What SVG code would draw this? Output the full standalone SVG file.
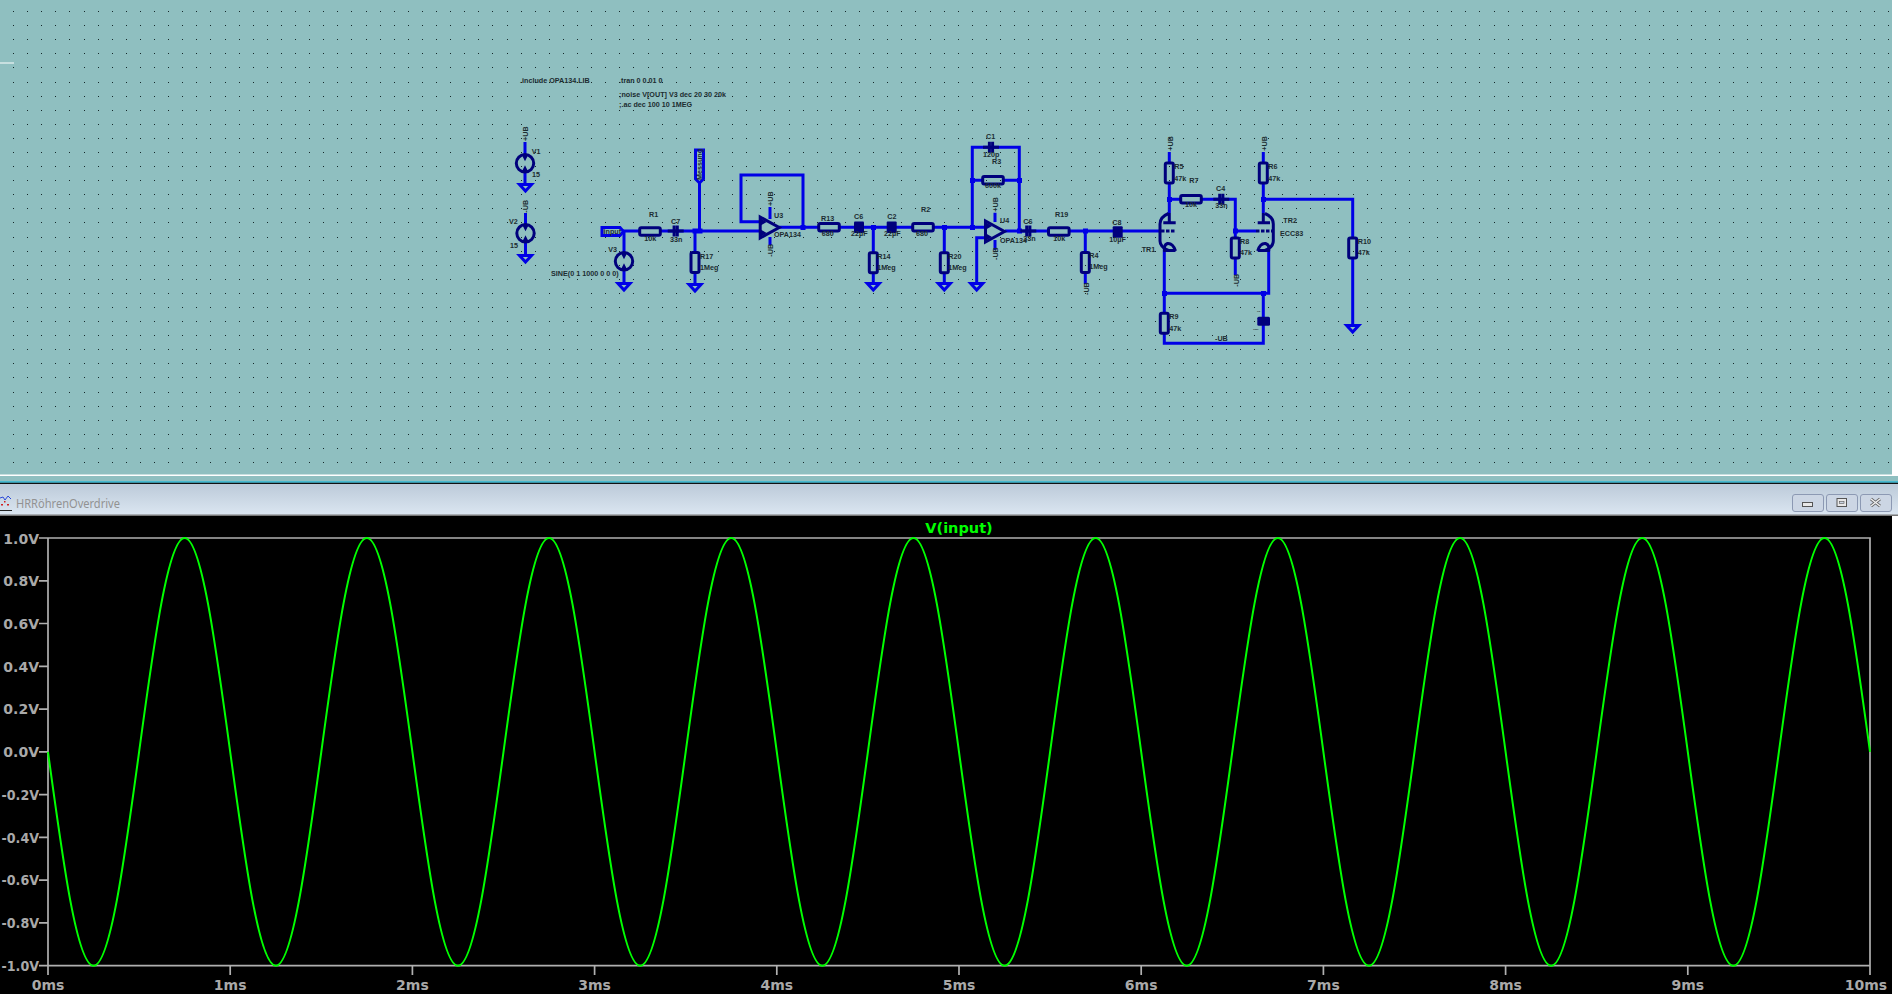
<svg xmlns="http://www.w3.org/2000/svg" width="1898" height="997" viewBox="0 0 1898 997">
<style>
.w{fill:none;stroke:#0000e6;stroke-width:3;stroke-linejoin:miter}
.c{fill:none;stroke:#00007c;stroke-width:3}
.f{fill:#00007c;stroke:none}
.j{fill:#0000e6}
.t{font:bold 7.2px "Liberation Sans",Arial,sans-serif;fill:#1c2c30}
.a{font:bold 14px "DejaVu Sans",sans-serif;fill:#a9a9a9}
.ax{fill:none;stroke:#b0b0b0;stroke-width:1.7}
.b{fill:#ccd6e4;stroke:#8c99b3;stroke-width:1}
</style>
<defs>
<linearGradient id="tb" x1="0" y1="0" x2="0" y2="1"><stop offset="0" stop-color="#bccad9"/><stop offset="1" stop-color="#dbe6f1"/></linearGradient>
<path id="gnd" class="w" d="M-6 0H6L0 6.5Z"/>
<g id="src"><circle class="c" r="8.7"/><path class="f" d="M-3-8H3L0-2ZM-3 8H3L0 2Z"/></g>
<rect id="rv" class="c" x="-4" y="-10" width="8" height="20" rx="1.5"/>
<rect id="rh" class="c" x="-10.3" y="-3.8" width="20.6" height="7.6" rx="1.5"/>
<rect id="cb" class="f" x="-5" y="-5.8" width="10" height="11.6" rx="1"/>
<path id="cs" class="c" d="M-8 0H8M-1.6-5.5V5.5M1.6-5.5V5.5"/>
<g id="oa"><path class="c" d="M-9.5-10.5V10.5L9.5 0Z"/><path class="f" d="M-9-9L-3-5.5L-9-2ZM-9 2L-3 5.5L-9 9Z"/></g>
</defs>

<rect width="1898" height="997" fill="#fff"/>
<rect width="1892" height="474.5" fill="#8fbfc0"/>
<path id="grid" fill="none" stroke="#14282a" stroke-width="1" stroke-dasharray="1 13.1" stroke-dashoffset="-13" shape-rendering="crispEdges" d="M0 11.5H1892M0 25.5H1892M0 39.5H1892M0 53.5H1892M0 67.5H1892M0 82.5H1892M0 96.5H1892M0 110.5H1892M0 124.5H1892M0 138.5H1892M0 152.5H1892M0 166.5H1892M0 180.5H1892M0 194.5H1892M0 208.5H1892M0 222.5H1892M0 237.5H1892M0 251.5H1892M0 265.5H1892M0 279.5H1892M0 293.5H1892M0 307.5H1892M0 321.5H1892M0 335.5H1892M0 349.5H1892M0 363.5H1892M0 377.5H1892M0 392.5H1892M0 406.5H1892M0 420.5H1892M0 434.5H1892M0 448.5H1892M0 462.5H1892"/>
<path d="M0 63H14" stroke="#fff" stroke-width="1"/>
<rect y="476" width="1898" height="6" fill="#8fbfc0"/>
<rect y="481.5" width="1898" height="1.2" fill="#00b4dc"/>
<rect y="482.7" width="1898" height="1.3" fill="#111"/>

<g id="connectors">
<path class="w" d="M525 142V155M525 172V185M525.5 213V225M525.5 242V255M623 231H639M661 231H760M699.5 183V231M695 231V253M695 272V284M624 231V252M624 270V283"/>
<path class="w" d="M760 221.7H741V175H803V227.3M779 227.3H819M839 227.3H913M933 227.3H985M873.3 227.3V253M873.3 272.7V283M944.3 227.3V253M944.3 272.7V283"/>
<path class="w" d="M972.3 227.3V147.3H1019.3V231M972.3 180.3H983M1003.3 180.3H1019.3M985 237.7H976.7V283M1005 231H1048M1069 231H1160M770 207V219M770 237V245M995 212.7V222M995 240V250M1085.3 231V253M1085.3 272.3V284"/>
<path class="w" d="M1169.3 152V163M1169.3 183V213M1169.3 199.3H1181M1201 199.3H1235.3V238M1235.3 258V275M1235.3 231H1256M1263.3 152V163M1263.3 183V213M1263.3 199.3H1352.7V238M1352.7 258V325"/>
<path class="w" d="M1164.3 250V313M1164.3 333V343.3H1263.3V293.3H1164.3M1268.7 250V293.3H1263.3"/>
<path class="j" d="M692.5 228.5h10v5h-10zM800.5 225h5v5h-5zM871 225h5v5h-5zM942 225h5v5h-5zM970 225h5v5h-5zM970 178h5v5h-5zM1017 178h5v5h-5zM1017 228.5h5v5h-5zM1083 228.5h5v5h-5zM1167 197h5v5h-5zM1233 228.5h5v5h-5zM1261 197h5v5h-5zM1162 291h5v5h-5zM1261 291h5v5h-5z"/>
</g>

<g id="directives">
<text class="t" x="520" y="82.7">.include OPA134.LIB</text>
<text class="t" x="619" y="82.7">.tran 0 0.01 0</text>
<text class="t" x="619" y="96.7">;noise V[OUT] V3 dec 20 30 20k</text>
<text class="t" x="619" y="106.7">;.ac dec 100 10 1MEG</text>
</g>

<g id="V1"><use href="#src" x="525" y="163.3"/><use href="#gnd" x="525.5" y="184.5"/>
<text class="t" transform="translate(528 141) rotate(-90)">+UB</text>
<text class="t" x="531.7" y="154">V1</text><text class="t" x="532" y="176.7">15</text></g>
<g id="V2"><use href="#src" x="525.5" y="233.3"/><use href="#gnd" x="525.5" y="255.5"/>
<text class="t" transform="translate(528 212.7) rotate(-90)">-UB</text>
<text class="t" x="509" y="224">V2</text><text class="t" x="510" y="247.7">15</text></g>
<g id="V3"><use href="#src" x="624" y="261.3"/><use href="#gnd" x="624" y="283.5"/>
<text class="t" x="608.3" y="252">V3</text><text class="t" x="551" y="275.7">SINE(0 1 1000 0 0 0)</text></g>

<g id="input"><path class="w" d="M602 227.5H620L623.5 231.5L620 235.5H602Z"/><text class="t" x="603.5" y="234">input</text></g>
<g id="Messung"><path class="w" d="M695.5 150H703.5V179L699.5 183L695.5 179Z"/><text class="t" transform="translate(702 180) rotate(-90)">Messung</text></g>

<g id="R1"><use href="#rh" x="650" y="231.5"/><text class="t" x="649" y="216.7">R1</text><text class="t" x="644.3" y="240.7">10k</text></g>
<g id="C7"><use href="#cs" x="675.7" y="231"/><text class="t" x="671" y="224.3">C7</text><text class="t" x="670" y="241.7">33n</text></g>
<g id="R17"><use href="#rv" x="695" y="262.5"/><use href="#gnd" x="695" y="284.5"/><text class="t" x="700" y="259">R17</text><text class="t" x="700" y="270">1Meg</text></g>

<g id="U3"><use href="#oa" x="769.7" y="227.5"/>
<text class="t" transform="translate(773 206) rotate(-90)">+UB</text><text class="t" transform="translate(773 256.7) rotate(-90)">-UB</text>
<text class="t" x="774" y="218.3">U3</text><text class="t" x="774" y="237.3">OPA134</text></g>

<g id="R13"><use href="#rh" x="829" y="227.3"/><text class="t" x="821" y="221.3">R13</text><text class="t" x="821.7" y="235.7">680</text></g>
<g id="C6"><use href="#cb" x="859" y="227.3"/><text class="t" x="854" y="218.7">C6</text><text class="t" x="851" y="235.7">22µF</text></g>
<g id="R14"><use href="#rv" x="873.3" y="262.7"/><use href="#gnd" x="873.3" y="283.5"/><text class="t" x="877.3" y="258.7">R14</text><text class="t" x="877.3" y="270">1Meg</text></g>
<g id="C2"><use href="#cb" x="891.7" y="227.3"/><text class="t" x="887.3" y="218.7">C2</text><text class="t" x="884" y="235.7">22µF</text></g>
<g id="R2"><use href="#rh" x="923" y="227.3"/><text class="t" x="921" y="211.7">R2</text><text class="t" x="916" y="235.7">680</text></g>
<g id="R20"><use href="#rv" x="944.3" y="262.7"/><use href="#gnd" x="944.3" y="283.5"/><text class="t" x="948.3" y="258.7">R20</text><text class="t" x="948.3" y="270">1Meg</text></g>

<g id="C1"><use href="#cs" x="991" y="147.3"/><text class="t" x="986" y="139">C1</text><text class="t" x="983" y="157.3">120p</text></g>
<g id="R3"><use href="#rh" x="993" y="180.3"/><text class="t" x="992" y="164.3">R3</text><text class="t" x="985" y="188.3">600k</text></g>
<g id="U4"><use href="#oa" x="995" y="231.5"/><use href="#gnd" x="976.7" y="283.5"/>
<text class="t" transform="translate(998 211.7) rotate(-90)">+UB</text><text class="t" transform="translate(998 260) rotate(-90)">-UB</text>
<text class="t" x="1000" y="223.3">U4</text><text class="t" x="1000" y="242.7">OPA134</text></g>
<g id="C9"><use href="#cs" x="1028.3" y="231"/><text class="t" x="1023.3" y="224.3">C6</text><text class="t" x="1023.3" y="241">33n</text></g>

<g id="R19"><use href="#rh" x="1058.8" y="231.5"/><text class="t" x="1055" y="216.7">R19</text><text class="t" x="1053.3" y="240.7">10k</text></g>
<g id="R4"><use href="#rv" x="1085.3" y="262.5"/><text class="t" transform="translate(1088.5 295) rotate(-90)">-UB</text><text class="t" x="1089.3" y="258.3">R4</text><text class="t" x="1089.3" y="269.3">1Meg</text></g>
<g id="C8"><use href="#cb" x="1117.7" y="232"/><text class="t" x="1112.3" y="225">C8</text><text class="t" x="1109.3" y="242.3">10µF</text></g>

<g id="TR1"><path class="c" d="M1163.3 222.7H1175.7M1169.3 213V222.7M1168.5 213.5Q1160 217 1160 224V241Q1160 247 1168.5 250.5"/>
<path class="c" d="M1161 231H1176" stroke-dasharray="3.5 1.5"/><path class="c" d="M1175.5 251Q1173 243 1167.5 243.5Q1163.5 245 1164.5 250.5H1175.5"/>
<text class="t" x="1141.7" y="251.7">TR1</text></g>
<g id="TR2"><path class="c" d="M1257.7 222.7H1270M1263.3 213V222.7M1265 213.5Q1273.3 217 1273.3 224V241Q1273.3 247 1265 250.5"/>
<path class="c" d="M1256 231H1273" stroke-dasharray="3.5 1.5"/><path class="c" d="M1257.7 251Q1260 243 1265.5 243.5Q1270 245 1268.7 250.5H1257.7"/>
<text class="t" x="1283.3" y="223.3">TR2</text><text class="t" x="1280" y="236.3">ECC83</text></g>
<g id="R5"><use href="#rv" x="1169.3" y="173"/><text class="t" transform="translate(1172.5 150.7) rotate(-90)">+UB</text><text class="t" x="1174.3" y="169.3">R5</text><text class="t" x="1174.3" y="180.7">47k</text></g>
<g id="R6"><use href="#rv" x="1263.3" y="173"/><text class="t" transform="translate(1266.5 150.7) rotate(-90)">+UB</text><text class="t" x="1268.3" y="169.3">R6</text><text class="t" x="1268.3" y="180.7">47k</text></g>
<g id="R7"><use href="#rh" x="1191" y="199.3"/><text class="t" x="1189.3" y="183.3">R7</text><text class="t" x="1185" y="207.3">10k</text></g>
<g id="C4"><use href="#cs" x="1221.3" y="199.3"/><text class="t" x="1216" y="191.3">C4</text><text class="t" x="1215.3" y="208.3">33n</text></g>
<g id="R8"><use href="#rv" x="1235.3" y="248"/><text class="t" transform="translate(1238.5 286.7) rotate(-90)">-UB</text><text class="t" x="1240" y="244">R8</text><text class="t" x="1240" y="255">47k</text></g>
<g id="R10"><use href="#rv" x="1352.7" y="248"/><use href="#gnd" x="1352.7" y="325.5"/><text class="t" x="1357.7" y="244">R10</text><text class="t" x="1357.7" y="255">47k</text></g>
<g id="R9"><use href="#rv" x="1164.3" y="323.3"/><text class="t" x="1169.3" y="319.3">R9</text><text class="t" x="1169.3" y="330.7">47k</text><text class="t" x="1215" y="341.3">-UB</text></g>
<g id="C3"><rect class="f" x="1257.3" y="316.7" width="12.7" height="9" rx="1.5"/><text class="t" x="1257" y="312" style="font-size:2.5px">C3</text><text class="t" x="1253" y="330" style="font-size:2.5px">10µF</text></g>

<g id="titlebar">
<rect y="484" width="1898" height="31" fill="url(#tb)"/>
<rect y="514.5" width="1898" height="1.5" fill="#777"/>
<path d="M0 498L3 497L5 500L8 496L11 499" fill="none" stroke="#2a48d8" stroke-width="1"/>
<path d="M1 504h2v1.5h-2zM7 504h2v1.5h-2zM4 501h1.5v1.5h-1.5z" fill="#d02020"/>
<path d="M0 510.5H12" stroke="#222" stroke-width="1"/>
<text x="16" y="508" textLength="104" lengthAdjust="spacingAndGlyphs" style="font:12.5px 'Noto Sans',sans-serif;fill:#929292">HRRöhrenOverdrive</text>
<g id="btn-min"><rect class="b" x="1792.5" y="494.5" width="31" height="17" rx="2.5"/><rect x="1802.5" y="502.5" width="10" height="4" fill="#e8e8e8" stroke="#555"/></g>
<g id="btn-max"><rect class="b" x="1826.5" y="494.5" width="31" height="17" rx="2.5"/><rect x="1837" y="498.5" width="9.5" height="8" fill="#e8e8e8" stroke="#555"/><rect x="1839.5" y="501.5" width="4.5" height="2" fill="#ccd6e4" stroke="#555" stroke-width=".6"/></g>
<g id="btn-close"><rect class="b" x="1860.5" y="494.5" width="31" height="17" rx="2.5"/><path d="M1871 499L1880 506M1880 499L1871 506" stroke="#666" stroke-width="3"/><path d="M1871 499L1880 506M1880 499L1871 506" stroke="#eee" stroke-width="1.5"/></g>
</g>

<g id="plot">
<rect y="516" width="1892" height="478" fill="#000"/>
<path class="ax" d="M48 538H1870V965.7H48ZM39 538H48M39 580.8H48M39 623.5H48M39 666.3H48M39 709.1H48M39 751.9H48M39 794.6H48M39 837.4H48M39 880.2H48M39 922.9H48M39 965.7H48M48 965.7V975M230.2 965.7V975M412.4 965.7V975M594.6 965.7V975M776.8 965.7V975M959 965.7V975M1141.2 965.7V975M1323.4 965.7V975M1505.6 965.7V975M1687.8 965.7V975M1870 965.7V975"/>
<g text-anchor="end">
<text class="a" x="39" y="543.5">1.0V</text><text class="a" x="39" y="586">0.8V</text><text class="a" x="39" y="628.7">0.6V</text><text class="a" x="39" y="671.5">0.4V</text><text class="a" x="39" y="714.3">0.2V</text><text class="a" x="39" y="757">0.0V</text></g>
<g textLength="37">
<text class="a" x="1.5" y="799.8" textLength="37.5" lengthAdjust="spacingAndGlyphs">-0.2V</text><text class="a" x="1.5" y="842.6" textLength="37.5" lengthAdjust="spacingAndGlyphs">-0.4V</text><text class="a" x="1.5" y="885.4" textLength="37.5" lengthAdjust="spacingAndGlyphs">-0.6V</text><text class="a" x="1.5" y="928.1" textLength="37.5" lengthAdjust="spacingAndGlyphs">-0.8V</text><text class="a" x="1.5" y="970.9" textLength="37.5" lengthAdjust="spacingAndGlyphs">-1.0V</text>
</g>
<g text-anchor="middle">
<text class="a" x="48" y="990">0ms</text><text class="a" x="230.2" y="990">1ms</text><text class="a" x="412.4" y="990">2ms</text><text class="a" x="594.6" y="990">3ms</text><text class="a" x="776.8" y="990">4ms</text><text class="a" x="959" y="990">5ms</text><text class="a" x="1141.2" y="990">6ms</text><text class="a" x="1323.4" y="990">7ms</text><text class="a" x="1505.6" y="990">8ms</text><text class="a" x="1687.8" y="990">9ms</text><text class="a" x="1866" y="990">10ms</text>
<text x="959" y="532.5" style="font:bold 14.5px 'DejaVu Sans',sans-serif;fill:#00ff00">V(input)</text>
</g>
<path id="trace" fill="none" stroke="#00ff00" stroke-width="2" d="M48 751.85c14.85 109.5 29.07 213.85 45.55 213.85c16.48 0 30.7 -104.35 45.55 -213.85c14.85 -109.5 29.07 -213.85 45.55 -213.85c16.48 0 30.7 104.35 45.55 213.85c14.85 109.5 29.07 213.85 45.55 213.85c16.48 0 30.7 -104.35 45.55 -213.85c14.85 -109.5 29.07 -213.85 45.55 -213.85c16.48 0 30.7 104.35 45.55 213.85c14.85 109.5 29.07 213.85 45.55 213.85c16.48 0 30.7 -104.35 45.55 -213.85c14.85 -109.5 29.07 -213.85 45.55 -213.85c16.48 0 30.7 104.35 45.55 213.85c14.85 109.5 29.07 213.85 45.55 213.85c16.48 0 30.7 -104.35 45.55 -213.85c14.85 -109.5 29.07 -213.85 45.55 -213.85c16.48 0 30.7 104.35 45.55 213.85c14.85 109.5 29.07 213.85 45.55 213.85c16.48 0 30.7 -104.35 45.55 -213.85c14.85 -109.5 29.07 -213.85 45.55 -213.85c16.48 0 30.7 104.35 45.55 213.85c14.85 109.5 29.07 213.85 45.55 213.85c16.48 0 30.7 -104.35 45.55 -213.85c14.85 -109.5 29.07 -213.85 45.55 -213.85c16.48 0 30.7 104.35 45.55 213.85c14.85 109.5 29.07 213.85 45.55 213.85c16.48 0 30.7 -104.35 45.55 -213.85c14.85 -109.5 29.07 -213.85 45.55 -213.85c16.48 0 30.7 104.35 45.55 213.85c14.85 109.5 29.07 213.85 45.55 213.85c16.48 0 30.7 -104.35 45.55 -213.85c14.85 -109.5 29.07 -213.85 45.55 -213.85c16.48 0 30.7 104.35 45.55 213.85c14.85 109.5 29.07 213.85 45.55 213.85c16.48 0 30.7 -104.35 45.55 -213.85c14.85 -109.5 29.07 -213.85 45.55 -213.85c16.48 0 30.7 104.35 45.55 213.85c14.85 109.5 29.07 213.85 45.55 213.85c16.48 0 30.7 -104.35 45.55 -213.85c14.85 -109.5 29.07 -213.85 45.55 -213.85c16.48 0 30.7 104.35 45.55 213.85"/>
</g>
</svg>
